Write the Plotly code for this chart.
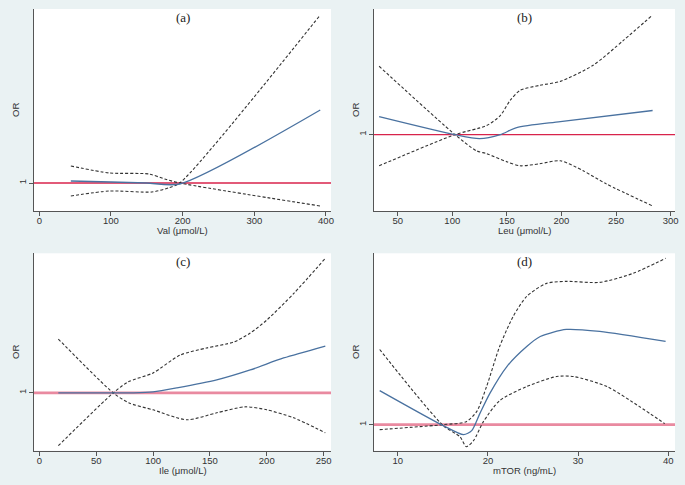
import plotly.graph_objects as go

# ---------------- data (OR estimates) ----------------
# (a) Val
val_x      = [44, 100, 150, 196, 392]
val_or     = [1.02, 1.01, 1.00, 0.99, 1.73]
val_ci1_x  = [44, 98, 153, 175, 196, 392]
val_ci1    = [1.17, 1.10, 1.09, 1.04, 1.00, 0.77]
val_ci2_x  = [44, 98, 157, 180, 196, 392]
val_ci2    = [0.87, 0.92, 0.91, 0.95, 1.00, 2.68]

# (b) Leu
leu_x      = [33, 102.5, 125, 144, 159, 199, 283.5]
leu_or     = [1.18, 1.00, 0.96, 1.00, 1.07, 1.13, 1.24]
leu_ci1_x  = [33, 102.5, 122, 131.5, 150, 162, 180, 199, 220, 241, 283.5]
leu_ci1    = [1.68, 1.00, 0.84, 0.81, 0.73, 0.69, 0.71, 0.74, 0.64, 0.51, 0.29]
leu_ci2_x  = [33, 102.5, 131.5, 144, 153, 162, 180, 199, 229, 257, 283.5]
leu_ci2    = [0.69, 1.00, 1.09, 1.19, 1.34, 1.44, 1.49, 1.53, 1.69, 1.94, 2.19]

# (c) Ile
ile_x      = [16.7, 50, 82.7, 100, 121, 156, 185.5, 214.8, 251.5]
ile_or     = [1.00, 1.00, 1.00, 1.01, 1.05, 1.13, 1.23, 1.35, 1.47]
ile_ci1_x  = [16.7, 65, 78, 100, 124, 147, 171, 185.5, 200, 224, 251.5]
ile_ci1    = [0.47, 1.00, 1.11, 1.20, 1.38, 1.45, 1.51, 1.60, 1.73, 2.00, 2.35]
ile_ci2_x  = [16.7, 65, 78.6, 100, 129.7, 156, 181, 200, 223.6, 251.5]
ile_ci2    = [1.54, 1.00, 0.90, 0.83, 0.73, 0.80, 0.86, 0.83, 0.75, 0.60]

# (d) mTOR
mtor_x     = [8, 15.05, 17.3, 18.2, 19.1, 20.2, 22.1, 24.3, 25.8, 28.7, 32.4, 39.7]
mtor_or    = [1.34, 0.99, 0.90, 0.94, 1.11, 1.31, 1.58, 1.78, 1.88, 1.95, 1.93, 1.83]
mtor_ci1_x = [8, 15.05, 17.6, 18.75, 19.85, 21.3, 22.8, 24.3, 26.5, 28.7, 32.4, 36.1, 39.7]
mtor_ci1   = [0.95, 1.00, 1.03, 1.13, 1.38, 1.78, 2.08, 2.28, 2.41, 2.43, 2.42, 2.51, 2.66]
mtor_ci2_x = [8, 15.05, 16.9, 17.6, 18.4, 19.5, 21.3, 24.3, 27.6, 29.5, 33.2, 36.8, 39.6]
mtor_ci2   = [1.75, 0.99, 0.88, 0.78, 0.84, 1.03, 1.24, 1.38, 1.48, 1.48, 1.38, 1.18, 1.01]

panel_labels = ["(a)", "(b)", "(c)", "(d)"]
x_titles = ["Val (μmol/L)", "Leu (μmol/L)", "Ile (μmol/L)", "mTOR (ng/mL)"]
y_title = "OR"
x_ticks = [[0, 100, 200, 300, 400], [50, 100, 150, 200, 250, 300],
           [0, 50, 100, 150, 200, 250], [10, 20, 30, 40]]
x_ranges = [[-7.4, 407], [28.3, 304], [-4.7, 256.5], [7.37, 40.74]]
y_ranges = [[0.72, 2.74], [0.24, 2.25], [0.42, 2.40], [0.74, 2.71]]
ref_width = [1.3, 1.3, 2.6, 2.6]
ref_color = ["#d8234b", "#d8234b", "#e98aa0", "#e98aa0"]

panels = [
    (val_x, val_or, val_ci1_x, val_ci1, val_ci2_x, val_ci2),
    (leu_x, leu_or, leu_ci1_x, leu_ci1, leu_ci2_x, leu_ci2),
    (ile_x, ile_or, ile_ci1_x, ile_ci1, ile_ci2_x, ile_ci2),
    (mtor_x, mtor_or, mtor_ci1_x, mtor_ci1, mtor_ci2_x, mtor_ci2),
]

W, H = 685, 485
px_dom = [(34, 331), (374, 675), (34, 331), (374, 675)]
py_dom = [(9, 211), (9, 211), (253.3, 450.7), (253.3, 450.7)]

BLUE = "#4a72a0"
DASH = "#333333"
AX = "#555555"
FONT = dict(size=9.5, color="#333333", family="Liberation Sans")

fig = go.Figure()
for i, (x, y, c1x, c1, c2x, c2) in enumerate(panels):
    xa = "x" if i == 0 else f"x{i+1}"
    ya = "y" if i == 0 else f"y{i+1}"
    lo, hi = x_ranges[i]
    fig.add_trace(go.Scatter(x=[lo, hi], y=[1, 1], mode="lines", xaxis=xa, yaxis=ya,
                             line=dict(color=ref_color[i], width=ref_width[i]),
                             showlegend=False, hoverinfo="skip"))
    for cx, cy in ((c1x, c1), (c2x, c2)):
        fig.add_trace(go.Scatter(x=cx, y=cy, mode="lines", xaxis=xa, yaxis=ya,
                                 line=dict(color=DASH, width=1.1, dash="3px,2px",
                                           shape="spline", smoothing=0.7),
                                 showlegend=False))
    fig.add_trace(go.Scatter(x=x, y=y, mode="lines", xaxis=xa, yaxis=ya,
                             line=dict(color=BLUE, width=1.3, shape="spline", smoothing=0.7),
                             showlegend=False))

    xd = [px_dom[i][0] / W, px_dom[i][1] / W]
    yd = [1 - py_dom[i][1] / H, 1 - py_dom[i][0] / H]
    suffix = "" if i == 0 else str(i + 1)
    fig.update_layout(**{
        f"xaxis{suffix}": dict(domain=xd, range=x_ranges[i], anchor=ya, automargin=False,
                               tickvals=x_ticks[i], ticks="outside", ticklen=4,
                               ticklabelstandoff=-3,
                               tickcolor=AX, showline=True, linecolor=AX, linewidth=1,
                               showgrid=False, zeroline=False, tickfont=FONT),
        f"yaxis{suffix}": dict(domain=yd, range=y_ranges[i], anchor=xa, automargin=False,
                               tickvals=[1], ticktext=["1"], tickangle=-90,
                               ticks="outside", ticklen=4, ticklabelstandoff=-1,
                               tickcolor=AX, showline=True, linecolor=AX, linewidth=1,
                               showgrid=False, zeroline=False, tickfont=FONT),
    })
    # panel label
    fig.add_annotation(text=panel_labels[i], xref="paper", yref="paper",
                       x=(xd[0] + xd[1]) / 2, y=yd[1] - 8 / H, xanchor="center", yanchor="middle",
                       showarrow=False,
                       font=dict(size=13, color="#222222", family="Liberation Serif"))
    # x-axis title
    fig.add_annotation(text=x_titles[i], xref="paper", yref="paper",
                       x=(xd[0] + xd[1]) / 2, y=yd[0] - 19.5 / H, xanchor="center", yanchor="middle",
                       showarrow=False, font=FONT)
    # y-axis title
    fig.add_annotation(text=y_title, xref="paper", yref="paper", textangle=-90,
                       x=xd[0] - 19 / W, y=(yd[0] + yd[1]) / 2, xanchor="center", yanchor="middle",
                       showarrow=False, font=FONT)

fig.update_layout(width=W, height=H, margin=dict(l=0, r=0, t=0, b=0),
                  paper_bgcolor="#eaf2f3", plot_bgcolor="#ffffff")
fig.write_html("out.html", config={"displayModeBar": False},
               post_script="document.body.style.margin='0';document.body.style.background='#eaf2f3';")
